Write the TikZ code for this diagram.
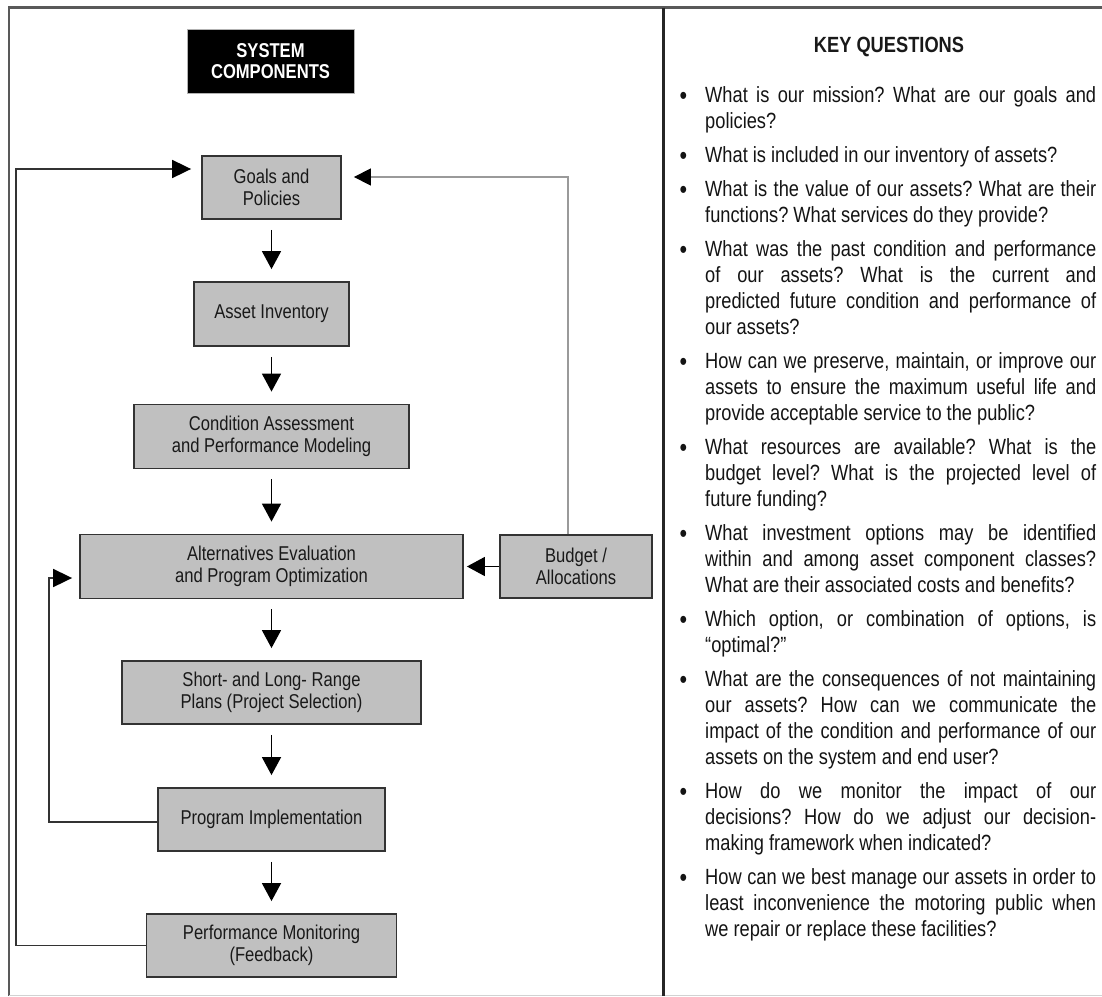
\documentclass[tikz,border=0pt]{standalone}
\usepackage{fontspec}
\setmainfont{Liberation Sans}[FakeStretch=0.83]
\usetikzlibrary{arrows.meta}

\definecolor{boxgray}{HTML}{C0C0C0}
\definecolor{edgegray}{HTML}{333333}
\definecolor{linkgray}{HTML}{9A9A9A}

\newcommand{\qbullet}{\noindent\llap{\raisebox{-2pt}{\fontsize{26}{26}\selectfont\textbullet}\hspace{18pt}}}
\newcommand{\qitem}{\par\qbullet}

\begin{document}
\begin{tikzpicture}[x=1pt, y=-1pt,
  comp/.style={draw=edgegray, line width=1.8pt, fill=boxgray, align=center,
    minimum height=64pt, inner sep=0pt, text=black!90,
    font=\fontsize{20}{22}\selectfont},
  title/.style={draw=gray!60, line width=0.8pt, fill=black, text=white, align=center,
    minimum width=167pt, minimum height=64pt, inner sep=0pt,
    font=\bfseries\fontsize{20}{21}\selectfont},
  flow/.style={-{Triangle[length=18pt,width=19pt]}, line width=1.6pt,
    shorten <=10pt, shorten >=12pt},
  back/.style={-{Triangle[length=19pt,width=18pt,color=black]}, line width=1.8pt,
    draw=black!80},
  budg/.style={-{Triangle[length=17pt,width=17pt,color=black]}, line width=1.4pt,
    draw=linkgray}
  ]

  \useasboundingbox (0,0) rectangle (1102,996);

  % frame
  \draw [line width=2.5pt, draw=black!65] (1102,7.5) -- (9,7.5) -- (9,996);
  \draw [line width=1pt, draw=gray!35] (9,995) -- (1102,995);
  \draw [line width=3pt, draw=black!85] (663,7.5) -- (663,996);

  \node [title] (sys) at (270.5,61) {SYSTEM\\COMPONENTS};

  \node [comp, minimum width=139pt, minimum height=63pt] (goals) at (271.5,187.5) {Goals and\\Policies};
  \node [comp, minimum width=155pt] (asset) at (271.5,314) {Asset Inventory};
  \node [comp, minimum width=275pt] (cond) at (271.5,436.5) {Condition Assessment\\and Performance Modeling};
  \node [comp, minimum width=383pt] (alt) at (271.5,566.5) {Alternatives Evaluation\\and Program Optimization};
  \node [comp, minimum width=152pt, minimum height=63pt] (budget) at (576,566.5) {Budget /\\Allocations};
  \node [comp, minimum width=299pt, minimum height=63pt] (plans) at (271.5,692.5) {Short- and Long- Range\\Plans (Project Selection)};
  \node [comp, minimum width=227pt, minimum height=63pt] (impl) at (271.5,819.5) {Program Implementation};
  \node [comp, minimum width=250pt, minimum height=63pt] (monit) at (271.5,945.5) {Performance Monitoring\\(Feedback)};

  \draw [flow] (goals) -- (asset);
  \draw [flow] (asset) -- (cond);
  \draw [flow] (cond) -- (alt);
  \draw [flow] (alt) -- (plans);
  \draw [flow] (plans) -- (impl);
  \draw [flow] (impl) -- (monit);
  \draw [flow, shorten <=0pt, shorten >=3pt] (budget) -- (alt);

  \coordinate (fbl) at (16,0);
  \coordinate (fbm) at (49,0);
  \coordinate (bup) at (568,0);

  \draw [back, shorten >=10pt] (monit.west) -- (monit.west -| fbl) |- ([yshift=18.5pt]goals.west);
  \draw [back, shorten >=7pt] ([yshift=-2.5pt]impl.west) -- ([yshift=-2.5pt]impl.west -| fbm) |- ([yshift=-11.5pt]alt.west);
  \draw [budg, shorten >=12pt] (budget.north -| bup) |- ([yshift=10.5pt]goals.east);

  \node [font=\bfseries\fontsize{22}{26}\selectfont, text=black!90] (keyq) at (889,47) {KEY QUESTIONS};

  \node [anchor=north west, inner sep=0pt, text width=391pt, align=justify, text=black!92,
    font=\fontsize{22}{26}\selectfont] (quest) at (705,86) {%
    \setlength{\parskip}{8pt}\frenchspacing\tolerance=9999 \hyphenpenalty=10000
    \qbullet What is our mission? What are our goals and\linebreak policies?
    \qitem What is included in our inventory of assets?
    \qitem What is the value of our assets? What are their\linebreak functions? What services do they provide?
    \qitem What was the past condition and performance\linebreak of our assets? What is the current and\linebreak predicted future condition and performance of\linebreak our assets?
    \qitem How can we preserve, maintain, or improve our\linebreak assets to ensure the maximum useful life and\linebreak provide acceptable service to the public?
    \qitem What resources are available? What is the\linebreak budget level? What is the projected level of\linebreak future funding?
    \qitem What investment options may be identified\linebreak within and among asset component classes?\linebreak What are their associated costs and benefits?
    \qitem Which option, or combination of options, is\linebreak “optimal?”
    \qitem What are the consequences of not maintaining\linebreak our assets? How can we communicate the\linebreak impact of the condition and performance of our\linebreak assets on the system and end user?
    \qitem How do we monitor the impact of our\linebreak decisions? How do we adjust our decision-\linebreak making framework when indicated?
    \qitem How can we best manage our assets in order to\linebreak least inconvenience the motoring public when\linebreak we repair or replace these facilities?\par};

%  \draw [dashed] (0,0) rectangle (1102,996);

\end{tikzpicture}
\end{document}
